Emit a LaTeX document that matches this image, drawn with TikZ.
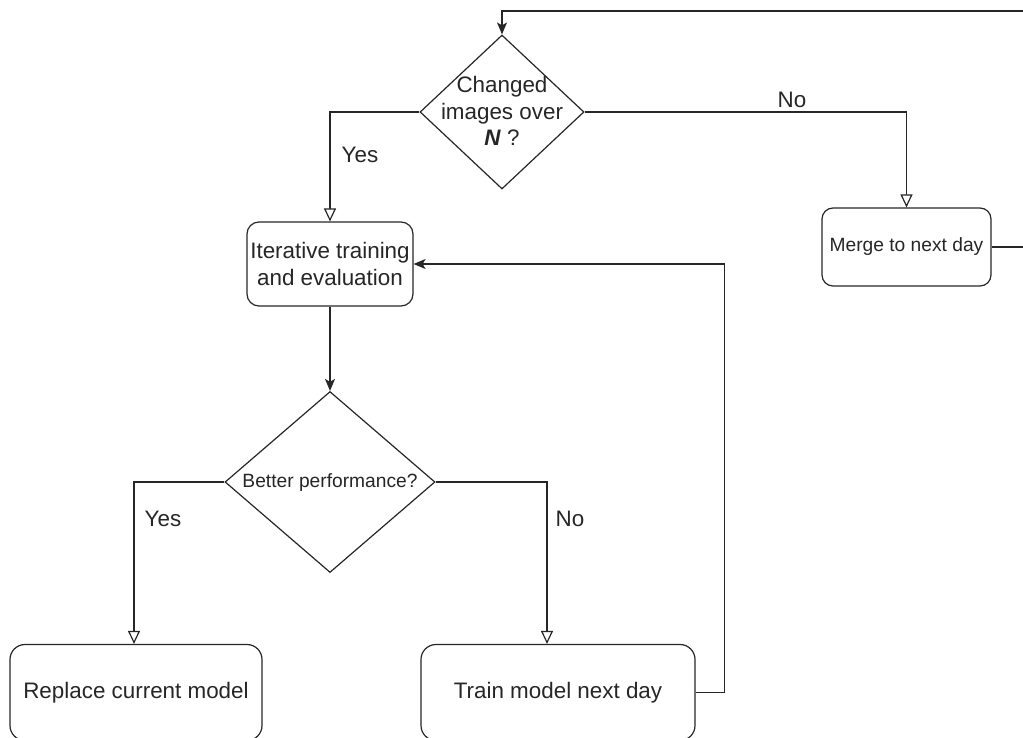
\documentclass[tikz,border=0pt]{standalone}
\usepackage{fontspec}
\setmainfont{Liberation Sans}
\usetikzlibrary{shapes.geometric,arrows.meta}
\begin{document}
\begin{tikzpicture}[x=1pt,y=-1pt,
  line width=1.2pt,
  box/.style={draw=black!85, rounded corners=12pt, line width=1.2pt, inner sep=0pt, align=center, text=black!85},
  dia/.style={draw=black!85, diamond, inner sep=0pt, line width=1.2pt},
  big/.style={font=\fontsize{22.4}{27}\selectfont},
  small/.style={font=\fontsize{19.2}{23}\selectfont},
  lbl/.style={big, text=black!85, inner sep=0pt},
  conn/.style={draw=black!85, line width=1.2pt},
  openarr/.style={conn, -{Triangle[length=13pt,width=12pt,fill=white]}},
  fillarr/.style={conn, -{Stealth[length=12pt,width=10pt,inset=3pt]}}
]
\useasboundingbox (0,0) rectangle (1023,738);
\clip (0,0) rectangle (1023,738);

% nodes
\node[dia, minimum width=164, minimum height=154] (d1) at (502,112) {};
\node[align=center, text=black!85, inner sep=0pt, font=\fontsize{22.4}{26.5}\selectfont] (d1t) at (502,111) {Changed\\images over\\\textbf{\textit{N}} ?};
\node[box, minimum width=169, minimum height=78, rounded corners=11pt, small] (merge) at (906.5,247) {Merge to next day};
\node[box, big, minimum width=166, minimum height=84] (iter) at (330,264) {Iterative training\\and evaluation};
\node[dia, minimum width=210, minimum height=181] (d2) at (330,482) {};
\node[small, text=black!85, inner sep=0pt] (d2t) at (330,483) {Better performance?};
\node[box, big, minimum width=252, minimum height=96, rounded corners=15pt] (repl) at (136,692.5) {Replace current model};
\node[box, big, minimum width=274, minimum height=96, rounded corners=15pt] (train) at (558,692.5) {Train model next day};

\coordinate (topR) at (1024,11);
\coordinate (mergeR) at (1024,247);

% connectors
\draw[fillarr] (topR) -| (d1.north);
\draw[openarr] (d1.east) -| (merge.north);
\draw[conn] (merge.east) -- (mergeR);
\draw[openarr] (d1.west) -| (iter.north);
\draw[fillarr] (iter.south) -- (d2.north);
\draw[openarr] (d2.west) -| ([xshift=-2pt]repl.north);
\draw[openarr] (d2.east) -| ([xshift=-11pt]train.north);
\draw[fillarr] (train.east) -- ++(29,0) |- (iter.east);

% labels
\node[lbl] (lno1) at (792,100) {No};
\node[lbl] (lyes1) at (360,155) {Yes};
\node[lbl] (lyes2) at (163,519) {Yes};
\node[lbl] (lno2) at (570,519) {No};
\end{tikzpicture}
\end{document}
